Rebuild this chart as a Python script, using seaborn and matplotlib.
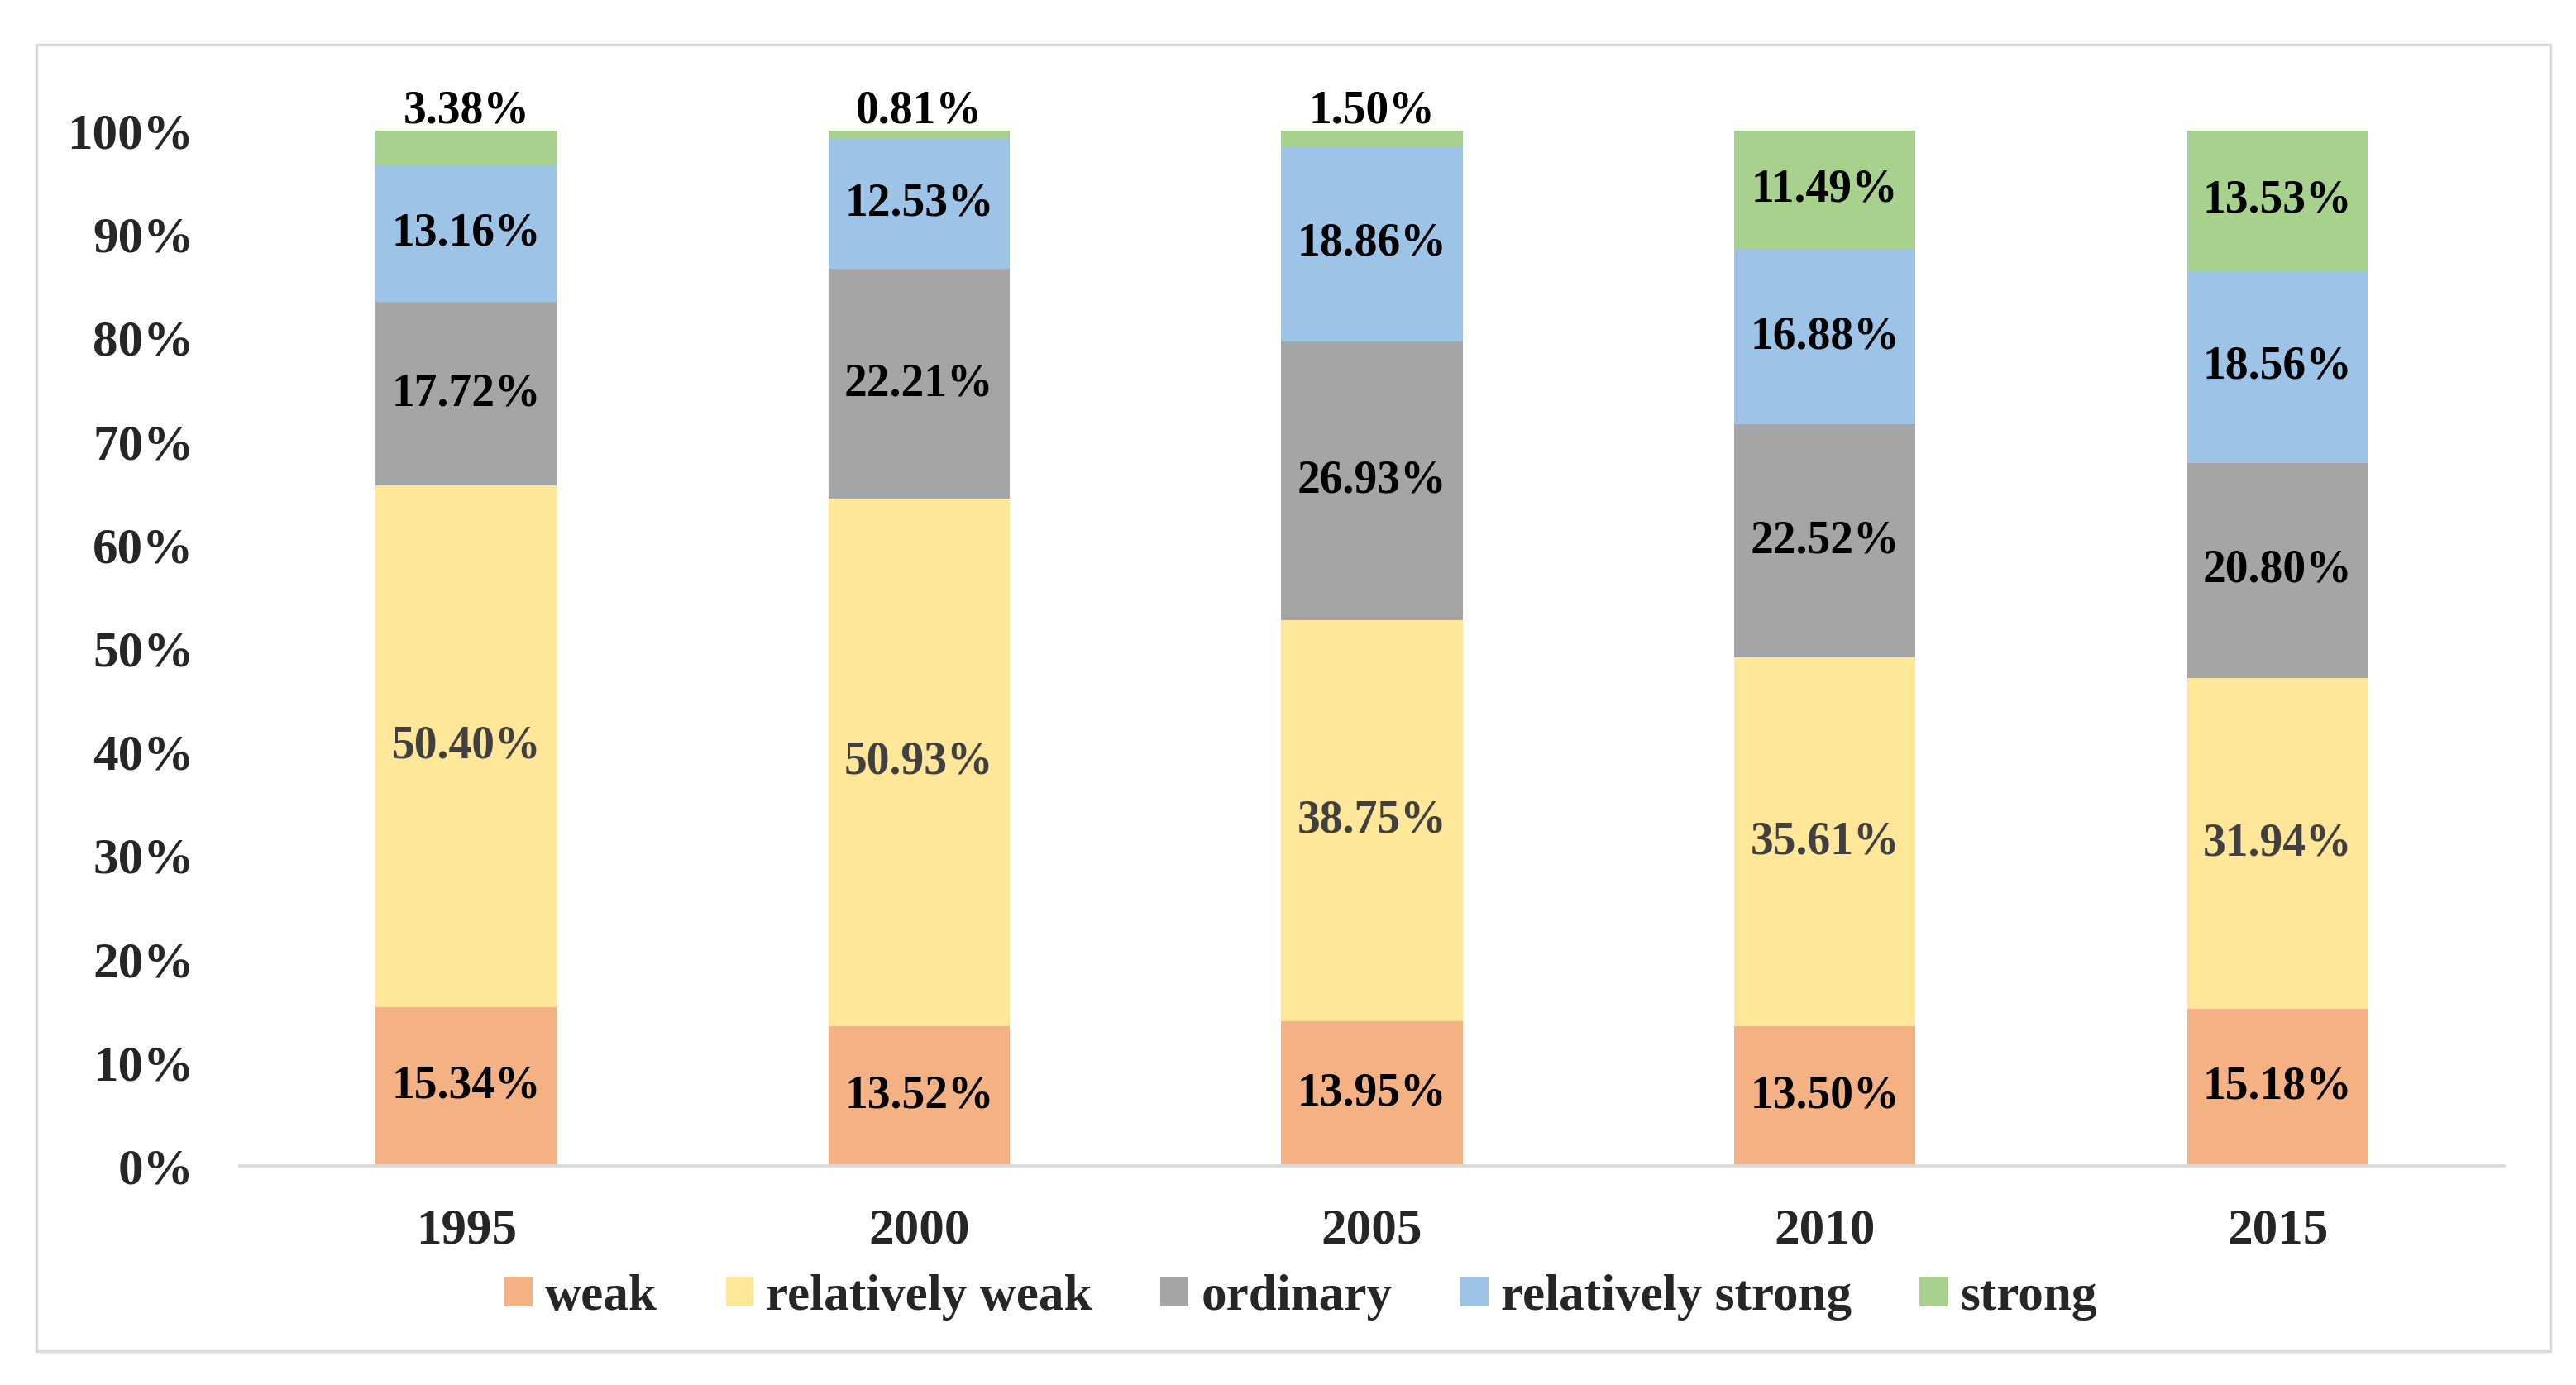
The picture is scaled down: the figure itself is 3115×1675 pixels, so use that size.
import matplotlib
matplotlib.use("Agg")
import matplotlib.pyplot as plt
from matplotlib.patches import Rectangle, Patch
import seaborn as sns
import numpy as np

years = ["1995", "2000", "2005", "2010", "2015"]
series_names = ["weak", "relatively weak", "ordinary", "relatively strong", "strong"]
weak = [15.34, 13.52, 13.95, 13.50, 15.18]
relatively_weak = [50.40, 50.93, 38.75, 35.61, 31.94]
ordinary = [17.72, 22.21, 26.93, 22.52, 20.80]
relatively_strong = [13.16, 12.53, 18.86, 16.88, 18.56]
strong = [3.38, 0.81, 1.50, 11.49, 13.53]
yticks = [0, 10, 20, 30, 40, 50, 60, 70, 80, 90, 100]

colors = ["#F4B183", "#FFE699", "#A5A5A5", "#9DC3E6", "#A9D18E"]
label_colors = ["black", "#404040", "black", "black", "black"]

sns.set_style("white")
plt.rcParams["font.family"] = ["Liberation Serif", "DejaVu Serif"]
plt.rcParams["font.weight"] = "bold"

W, H, DPI = 3115, 1675, 200
fig = plt.figure(figsize=(W / DPI, H / DPI), dpi=DPI)
fig.patch.set_facecolor("white")
ax = fig.add_axes([290 / W, 1 - 1410 / H, (3028 - 290) / W, (1410 - 158) / H])

# outer frame
fig.patches.append(Rectangle((44 / W, 1 - 1634 / H), (3084 - 44) / W, (1634 - 54) / H,
                             transform=fig.transFigure, fill=False,
                             edgecolor="#D9D9D9", lw=1.2, zorder=0))

data = [weak, relatively_weak, ordinary, relatively_strong, strong]
bottom = np.zeros(len(years))
for name, vals, c, lc in zip(series_names, data, colors, label_colors):
    vals = np.array(vals)
    sns.barplot(x=years, y=vals, bottom=bottom, color=c, width=0.4,
                saturation=1, ax=ax, label=name, linewidth=0, errorbar=None)
    for i, v in enumerate(vals):
        if v < 5:
            ax.text(i, bottom[i] + v - 0.2, f"{v:.2f}%", ha="center", va="bottom",
                    fontsize=20, fontweight="bold", color=lc, clip_on=False)
        else:
            ax.text(i, bottom[i] + v / 2, f"{v:.2f}%", ha="center", va="center",
                    fontsize=20, fontweight="bold", color=lc)
    bottom = bottom + vals

ax.set_xlim(-0.5, 4.5)
ax.set_ylim(0, 100)
ax.set_yticks(yticks)
ax.set_yticklabels([f"{t}%" for t in yticks])
ax.tick_params(axis="y", length=0, pad=20, labelsize=22)
ax.tick_params(axis="x", length=0, pad=18, labelsize=22)
for lab in ax.get_xticklabels() + ax.get_yticklabels():
    lab.set_fontweight("bold")
for s in ["top", "right", "left"]:
    ax.spines[s].set_visible(False)
ax.spines["bottom"].set_color("#D9D9D9")
ax.spines["bottom"].set_linewidth(1.3)
ax.set_xlabel("")
ax.set_ylabel("")

handles = [Patch(facecolor=c, edgecolor="none", label=n) for c, n in zip(colors, series_names)]
ax.legend(handles=handles, loc="center", bbox_to_anchor=(0.505, 0.0635),
          bbox_transform=fig.transFigure, ncol=5, frameon=False,
          prop={"size": 22, "weight": "bold"}, handlelength=0.55, handleheight=0.55,
          handletextpad=0.25, columnspacing=1.35, borderaxespad=0)

fig.savefig("out.png", dpi=DPI, facecolor="white")
